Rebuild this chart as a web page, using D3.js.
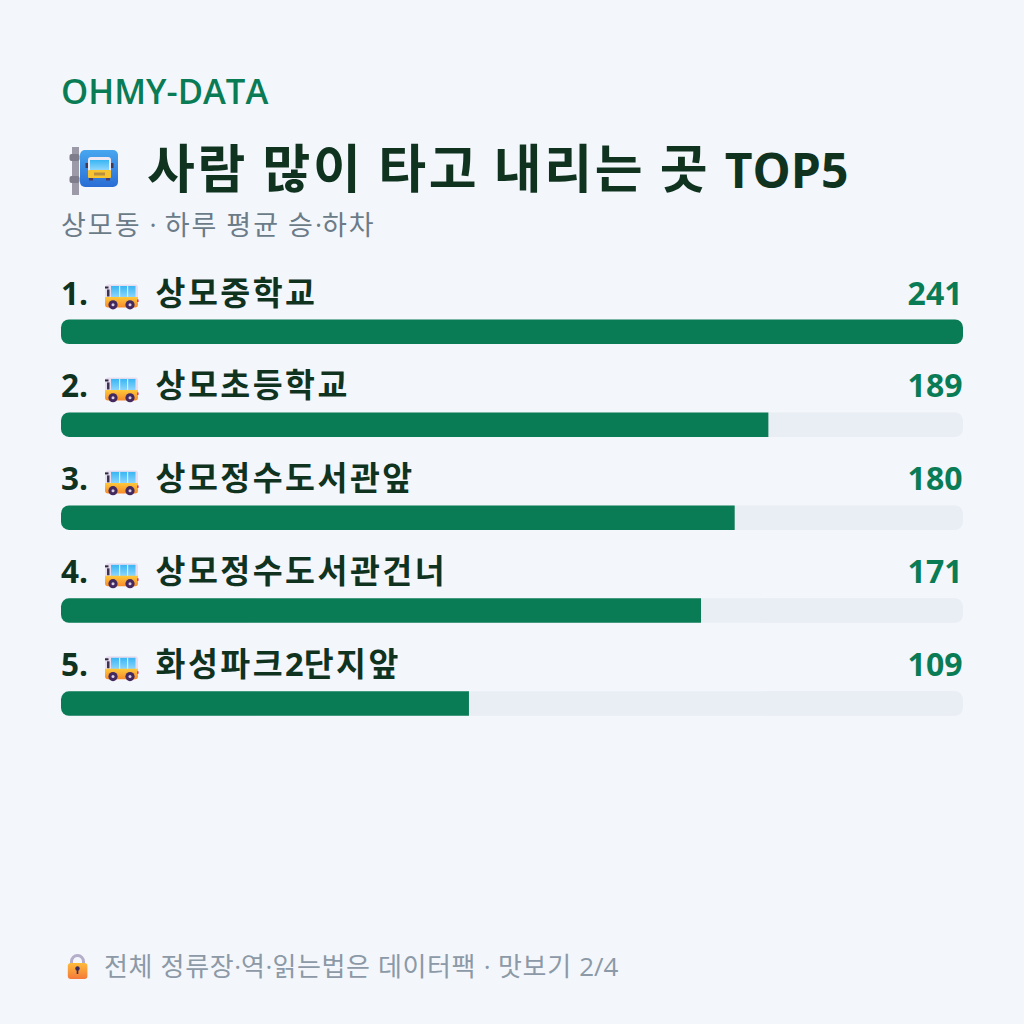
<!DOCTYPE html>
<html lang="ko">
<head>
<meta charset="utf-8">
<script src="https://cdn.jsdelivr.net/npm/d3@7"></script>
<style>
  html, body { margin: 0; padding: 0; background: #f3f6fb; }
  svg { display: block; }
  text { font-family: "Open Sans", "Noto Sans CJK KR", sans-serif; }
</style>
</head>
<body>
<svg id="chart" width="1024" height="1024"></svg>
<script>
const stops = ["상모중학교", "상모초등학교", "상모정수도서관앞", "상모정수도서관건너", "화성파크2단지앞"];
const riders = [241, 189, 180, 171, 109];
const brand = "OHMY-DATA";
const headline = "사람 많이 타고 내리는 곳 TOP5";
const subhead = "상모동 · 하루 평균 승·하차";
const footnote = "전체 정류장·역·읽는법은 데이터팩 · 맛보기 2/4";

const GREEN = "#0a7c55", INK = "#10331f", TRACK = "#e9edf4", MUTED = "#6b7b88", FOOT = "#8c99a6";

const svg = d3.select("#chart");
const defs = svg.append("defs");

function grad(id, a, b) {
  const g = defs.append("linearGradient").attr("id", id).attr("x1", 0).attr("y1", 0).attr("x2", 0).attr("y2", 1);
  g.append("stop").attr("offset", 0).attr("stop-color", a);
  g.append("stop").attr("offset", 1).attr("stop-color", b);
}
grad("busBody", "#ffc93a", "#f78a2c");
grad("busGlass", "#38b6f4", "#8fd6fc");
grad("signBlue", "#47a6ef", "#2a6dd5");
grad("lockBody", "#fdbb3a", "#f4793a");

// Hangul and Latin are set at different sizes, so each run gets its own tspan
function setRuns(sel, str, o) {
  sel.selectAll("tspan").data(str.match(/[\uac00-\ud7a3]+|[^\uac00-\ud7a3]+/g)).join("tspan")
    .text(d => d)
    .attr("font-size", d => /[\uac00-\ud7a3]/.test(d) ? o.hangul : o.latin)
    .attr("letter-spacing", d => /[\uac00-\ud7a3]/.test(d) ? o.spacing : 0)
    .attr("word-spacing", o.word || 0);
}

const x = d3.scaleLinear().domain([0, d3.max(riders)]).range([0, 902]);
const y = d3.scalePoint().domain(d3.range(stops.length)).range([319.5, 691.3]);

svg.append("rect").attr("width", 1024).attr("height", 1024).attr("fill", "#f3f6fb");

svg.append("text").text(brand)
  .attr("x", 61).attr("y", 104).attr("fill", GREEN)
  .attr("font-size", 34.6).attr("font-weight", 600);

svg.append("text")
  .attr("x", 147).attr("y", 188).attr("fill", INK)
  .attr("font-weight", 700).attr("xml:space", "preserve")
  .call(setRuns, headline, { hangul: 52, latin: 48, spacing: 2.7, word: 2 });

svg.append("text")
  .attr("x", 61).attr("y", 235).attr("fill", MUTED)
  .call(setRuns, subhead, { hangul: 27, latin: 27, spacing: 2, word: 1 });

// Bus-stop sign
const sign = svg.append("g").attr("transform", "translate(69,147)");
sign.append("rect").attr("x", 3).attr("y", 0).attr("width", 7).attr("height", 48).attr("fill", "#9c9aa8");
sign.append("rect").attr("x", 0.5).attr("y", 7).attr("width", 10).attr("height", 7).attr("rx", 2).attr("fill", "#7f7d8c");
sign.append("rect").attr("x", 0.5).attr("y", 29).attr("width", 10).attr("height", 7).attr("rx", 2).attr("fill", "#7f7d8c");
sign.append("rect").attr("x", 11).attr("y", 3).attr("width", 38).attr("height", 37).attr("rx", 5).attr("fill", "url(#signBlue)");
sign.append("rect").attr("x", 19).attr("y", 10).attr("width", 23).attr("height", 20).attr("rx", 3).attr("fill", "#efe8f2");
sign.append("rect").attr("x", 21).attr("y", 13).attr("width", 19).attr("height", 10).attr("fill", "url(#busGlass)");
sign.append("rect").attr("x", 19).attr("y", 23).attr("width", 23).attr("height", 8).attr("rx", 1).attr("fill", "#f7c331");
sign.append("rect").attr("x", 25).attr("y", 25.5).attr("width", 11).attr("height", 3).attr("fill", "#b98f3c");
sign.append("rect").attr("x", 16.5).attr("y", 16).attr("width", 2.5).attr("height", 5).attr("fill", "#3f3a55");
sign.append("rect").attr("x", 42).attr("y", 16).attr("width", 2.5).attr("height", 5).attr("fill", "#3f3a55");
sign.append("rect").attr("x", 20).attr("y", 31).attr("width", 4).attr("height", 2.5).attr("fill", "#4b3a6a");
sign.append("rect").attr("x", 37).attr("y", 31).attr("width", 4).attr("height", 2.5).attr("fill", "#4b3a6a");

const rows = svg.selectAll("g.row").data(stops).join("g")
  .attr("class", "row")
  .attr("transform", (d, i) => `translate(61,${y(i)})`);

rows.append("rect")
  .attr("width", x(d3.max(riders))).attr("height", 24.5).attr("rx", 8).attr("fill", TRACK);

// Fill is square on its right end unless it reaches the end of the track
rows.append("path").attr("fill", GREEN)
  .attr("d", (d, i) => {
    const w = x(riders[i]);
    return riders[i] === d3.max(riders)
      ? `M8,0H${w - 8}a8,8 0 0 1 8,8V16.5a8,8 0 0 1 -8,8H8a8,8 0 0 1 -8,-8V8a8,8 0 0 1 8,-8Z`
      : `M8,0H${w}V24.5H8a8,8 0 0 1 -8,-8V8a8,8 0 0 1 8,-8Z`;
  });

rows.append("text").text((d, i) => `${i + 1}.`)
  .attr("x", 0).attr("y", -15).attr("fill", INK)
  .attr("font-size", 31.5).attr("font-weight", 700);

rows.append("text")
  .attr("x", 94.5).attr("y", -15).attr("fill", INK)
  .attr("font-weight", 700)
  .each(function (d) { d3.select(this).call(setRuns, d, { hangul: 32.5, latin: 32.5, spacing: 2.5 }); });

rows.append("text").text((d, i) => riders[i])
  .attr("x", 901.5).attr("y", -15).attr("text-anchor", "end").attr("fill", GREEN)
  .attr("font-size", 32).attr("font-weight", 700);

// Bus icon beside each stop name
const bus = rows.append("g").attr("transform", "translate(44,-35)");
bus.append("path").attr("d", "M0,3a3,3 0 0 1 3,-3H30a3,3 0 0 1 3,3V14H0Z").attr("fill", "#e8ddf0");
bus.append("rect").attr("x", 6).attr("y", 1.5).attr("width", 24.5).attr("height", 11.5).attr("fill", "url(#busGlass)");
bus.append("rect").attr("x", 0).attr("y", 2).attr("width", 3.5).attr("height", 2).attr("fill", "#2e2a40");
bus.append("rect").attr("x", 2).attr("y", 5).attr("width", 2.5).attr("height", 7).attr("fill", "#3a3450");
bus.selectAll("rect.strut").data([14, 22]).join("rect").attr("class", "strut")
  .attr("x", d => d).attr("y", 1.5).attr("width", 1.2).attr("height", 11.5).attr("fill", "#dceafa");
bus.append("path").attr("d", "M0,12.5H33V20a3,3 0 0 1 -3,3H3a3,3 0 0 1 -3,-3Z").attr("fill", "url(#busBody)");
bus.append("rect").attr("x", 32).attr("y", 15).attr("width", 1.6).attr("height", 2.5).attr("fill", "#e0307c");
bus.selectAll("circle.wheel").data([8, 25]).join("circle").attr("class", "wheel")
  .attr("cx", d => d).attr("cy", 20.3).attr("r", 4.6).attr("fill", "#43295f");
bus.selectAll("circle.hub").data([8, 25]).join("circle").attr("class", "hub")
  .attr("cx", d => d).attr("cy", 20.3).attr("r", 1.5).attr("fill", "#d9cfe2");

// Padlock
const lock = svg.append("g").attr("transform", "translate(67,955)");
lock.append("path").attr("d", "M4.5,11V6.5a6,6 0 0 1 12,0V11").attr("fill", "none").attr("stroke", "#b5aeca").attr("stroke-width", 3);
lock.append("rect").attr("x", 0.8).attr("y", 8).attr("width", 19.6).attr("height", 16).attr("rx", 3).attr("fill", "url(#lockBody)");
lock.append("circle").attr("cx", 10.5).attr("cy", 13.5).attr("r", 2.2).attr("fill", "#3a2a5a");
lock.append("rect").attr("x", 9.7).attr("y", 13.5).attr("width", 1.6).attr("height", 5.5).attr("fill", "#3a2a5a");

svg.append("text")
  .attr("x", 104).attr("y", 976).attr("fill", FOOT)
  .attr("xml:space", "preserve")
  .call(setRuns, footnote, { hangul: 26, latin: 26, spacing: 0.6, word: 0.8 });
</script>
</body>
</html>
